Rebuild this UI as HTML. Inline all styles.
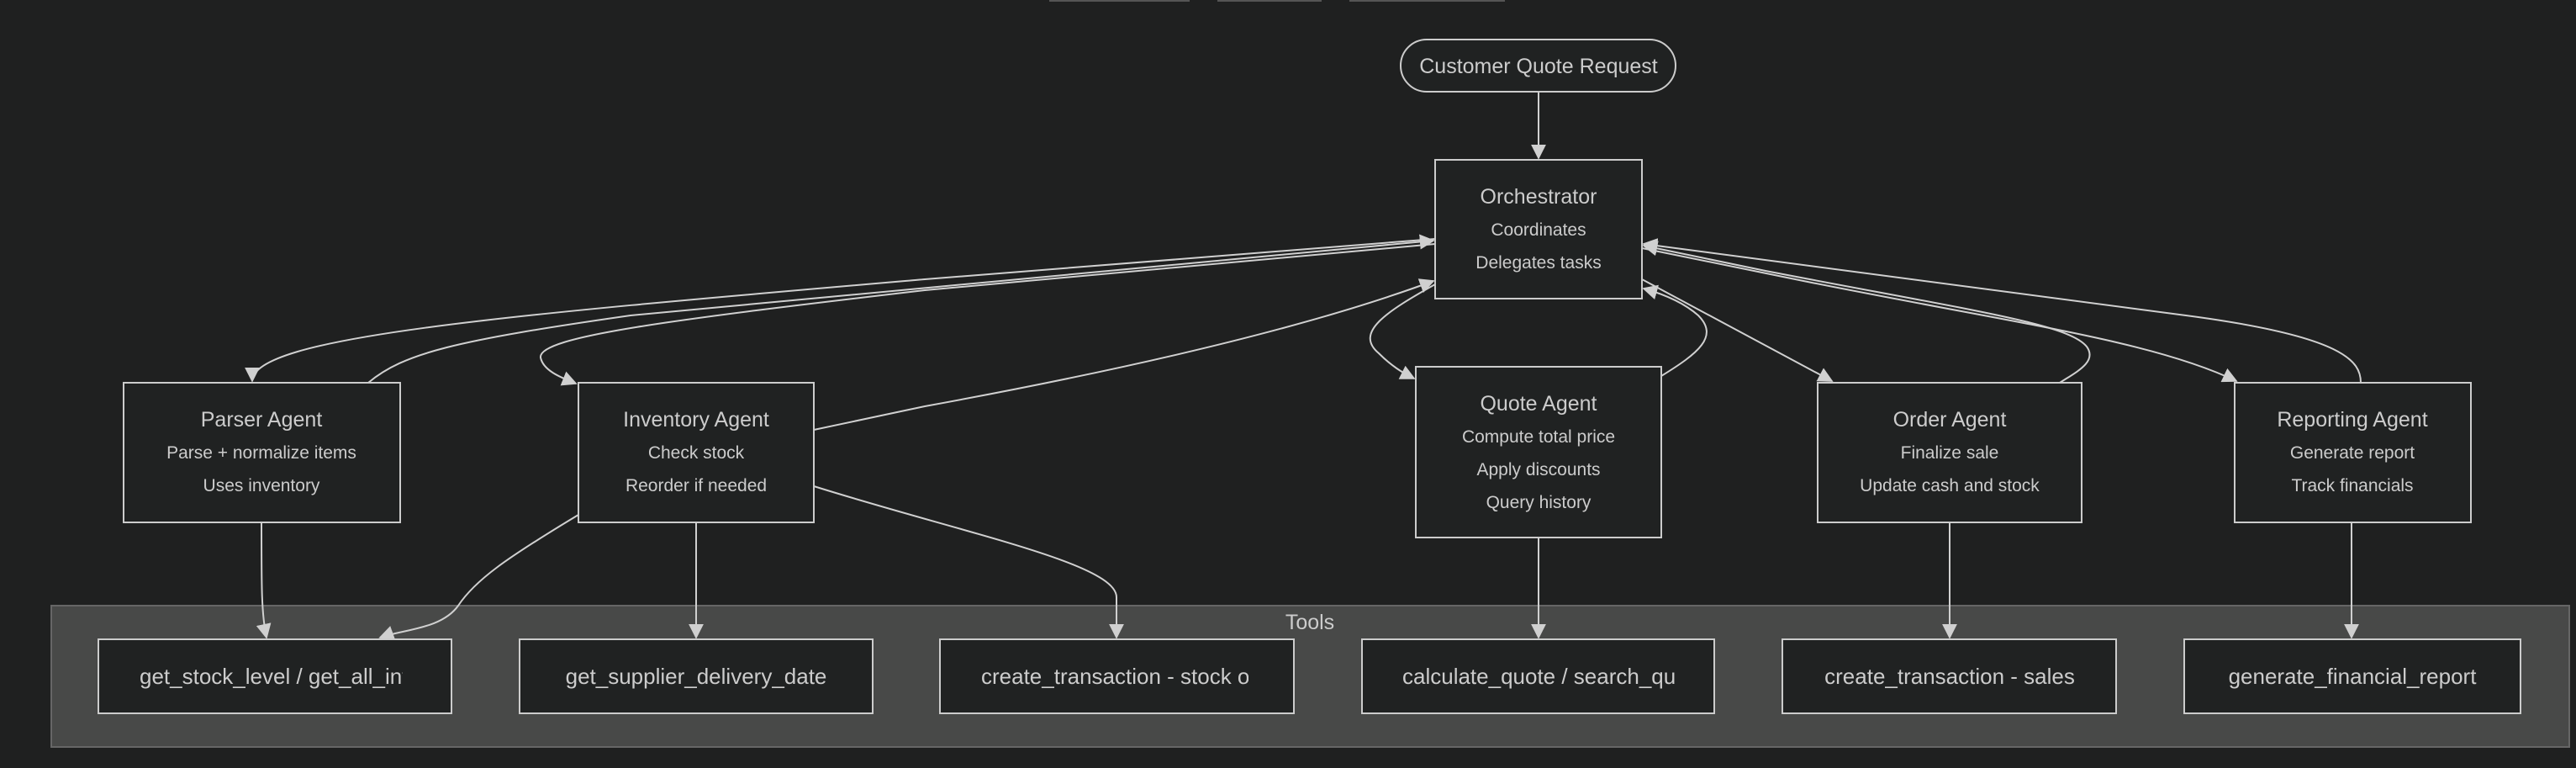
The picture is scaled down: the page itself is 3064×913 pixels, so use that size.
<!DOCTYPE html>
<html><head><meta charset="utf-8"><style>
html,body{margin:0;padding:0;background:#1f2020;}
svg{display:block;}
text{font-family:"Liberation Sans",sans-serif;fill:#cccccc;}
</style></head><body>
<svg width="3064" height="913" viewBox="0 0 3064 913" xmlns="http://www.w3.org/2000/svg">
<defs>
<marker id="b" viewBox="0 0 10 10" refX="9" refY="5" markerWidth="18" markerHeight="18" markerUnits="userSpaceOnUse" orient="auto"><path d="M0,0 L10,5 L0,10 z" fill="#d0d0d0"/></marker>
<clipPath id="c1"><rect x="117" y="760" width="362" height="88"/></clipPath>
<clipPath id="c3"><rect x="1118" y="760" width="367" height="88"/></clipPath>
<clipPath id="c4"><rect x="1620" y="760" width="372" height="88"/></clipPath>
</defs>
<rect width="3064" height="913" fill="#1f2020"/>
<rect x="1249" y="-40" width="165" height="41" fill="none" stroke="#555" stroke-width="2"/>
<rect x="1449" y="-40" width="122" height="41" fill="none" stroke="#555" stroke-width="2"/>
<rect x="1606" y="-40" width="183" height="41" fill="none" stroke="#555" stroke-width="2"/>
<rect x="61" y="720" width="2995" height="168" fill="#484948" stroke="#666" stroke-width="2"/>
<text x="1558" y="748" font-size="25" text-anchor="middle" fill="#eee">Tools</text>

<g fill="none" stroke="#d0d0d0" stroke-width="2">
<path d="M1830,109 L1830,188" marker-end="url(#b)"/>
<path d="M1707,284 L1100,332 C600,375 300,400 300,453" marker-end="url(#b)"/>
<path d="M438,455 C480,420 540,405 750,375 L1705,286" marker-end="url(#b)"/>
<path d="M1707,290 L1100,345 C800,380 640,400 643,425 C646,440 665,448 685,456" marker-end="url(#b)"/>
<path d="M968,511 L1100,483 Q1500,410 1705,334" marker-end="url(#b)"/>
<path d="M688,612 C600,665 565,690 545,720 C525,748 480,748 452,758" marker-end="url(#b)"/>
<path d="M311,621 C311,700 311,730 317,758" marker-end="url(#b)"/>
<path d="M828,621 L828,758" marker-end="url(#b)"/>
<path d="M968,578 C1150,635 1328,670 1328,710 L1328,758" marker-end="url(#b)"/>
<path d="M1707,338 C1650,370 1610,395 1640,420 C1655,435 1668,443 1682,450" marker-end="url(#b)"/>
<path d="M1976,447 C2020,420 2045,400 2020,375 C2003,360 1980,350 1955,343" marker-end="url(#b)"/>
<path d="M1953,332 L2179,453" marker-end="url(#b)"/>
<path d="M2450,455 C2470,442 2495,430 2482,412 C2460,385 2350,370 2100,322 L1955,292" marker-end="url(#b)"/>
<path d="M1953,295 L2150,335 C2400,385 2560,405 2660,453" marker-end="url(#b)"/>
<path d="M2808,455 C2808,430 2790,400 2600,375 L1955,290" marker-end="url(#b)"/>
<path d="M1830,639 L1830,758" marker-end="url(#b)"/>
<path d="M2319,621 L2319,758" marker-end="url(#b)"/>
<path d="M2797,621 L2797,758" marker-end="url(#b)"/>
</g>

<g fill="#202222" stroke="#cccccc" stroke-width="2">
<rect x="1666" y="47" width="327" height="62" rx="31"/>
<rect x="1707" y="190" width="246" height="165"/>
<rect x="147" y="455" width="329" height="166"/>
<rect x="688" y="455" width="280" height="166"/>
<rect x="1684" y="436" width="292" height="203"/>
<rect x="2162" y="455" width="314" height="166"/>
<rect x="2658" y="455" width="281" height="166"/>
<rect x="117" y="760" width="420" height="88"/>
<rect x="618" y="760" width="420" height="88"/>
<rect x="1118" y="760" width="421" height="88"/>
<rect x="1620" y="760" width="419" height="88"/>
<rect x="2120" y="760" width="397" height="88"/>
<rect x="2598" y="760" width="400" height="88"/>
</g>

<g text-anchor="middle">
<text x="1830" y="87" font-size="25">Customer Quote Request</text>
<text x="1830" y="242" font-size="25">Orchestrator</text>
<text x="1830" y="280" font-size="21">Coordinates</text>
<text x="1830" y="319" font-size="21">Delegates tasks</text>

<text x="311" y="507" font-size="25">Parser Agent</text>
<text x="311" y="545" font-size="21">Parse + normalize items</text>
<text x="311" y="584" font-size="21">Uses inventory</text>

<text x="828" y="507" font-size="25">Inventory Agent</text>
<text x="828" y="545" font-size="21">Check stock</text>
<text x="828" y="584" font-size="21">Reorder if needed</text>

<text x="1830" y="488" font-size="25">Quote Agent</text>
<text x="1830" y="526" font-size="21">Compute total price</text>
<text x="1830" y="565" font-size="21">Apply discounts</text>
<text x="1830" y="604" font-size="21">Query history</text>

<text x="2319" y="507" font-size="25">Order Agent</text>
<text x="2319" y="545" font-size="21">Finalize sale</text>
<text x="2319" y="584" font-size="21">Update cash and stock</text>

<text x="2798" y="507" font-size="25">Reporting Agent</text>
<text x="2798" y="545" font-size="21">Generate report</text>
<text x="2798" y="584" font-size="21">Track financials</text>

<text x="828" y="813" font-size="26">get_supplier_delivery_date</text>
<text x="2319" y="813" font-size="26">create_transaction - sales</text>
<text x="2798" y="813" font-size="26">generate_financial_report</text>
</g>
<text x="166" y="813" font-size="26" clip-path="url(#c1)">get_stock_level / get_all_inventory</text>
<text x="1167" y="813" font-size="26" clip-path="url(#c3)">create_transaction - stock orders</text>
<text x="1668" y="813" font-size="26" clip-path="url(#c4)">calculate_quote / search_quote_history</text>
</svg>
</body></html>
